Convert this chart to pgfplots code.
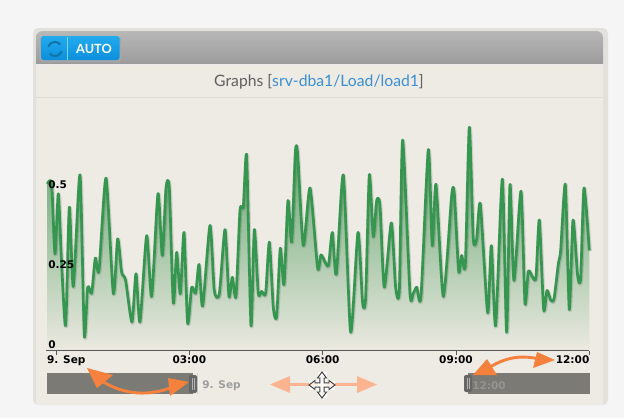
\documentclass[border=0pt]{standalone}
\usepackage{pgfplots}
\usepackage{pgfplotstable}
\pgfplotsset{compat=1.18}
\usepackage{fontspec}
\setmainfont{Lato}
\newfontfamily\tickfont{DejaVu Sans}
\definecolor{outer}{HTML}{F5F5F5}
\definecolor{panelb}{HTML}{E3E1DB}
\definecolor{panel}{HTML}{EEEBE4}
\definecolor{sep}{HTML}{DEDCD6}
\definecolor{lineg}{HTML}{359650}
\definecolor{areatop}{HTML}{559F63}
\definecolor{areabot}{HTML}{EBE9E1}
\definecolor{oran}{HTML}{F5813C}
\definecolor{lightoran}{HTML}{FBB48F}
\definecolor{mask}{HTML}{7C7A74}
\definecolor{titleg}{HTML}{5F5F5F}
\definecolor{linkb}{HTML}{3A8FD6}
\definecolor{btop}{HTML}{22ABEF}
\definecolor{bbot}{HTML}{0C8FDC}
\definecolor{bicon}{HTML}{1273A8}
\pgfplotstableread{
m v
-11.7 .521
-5.85 .521
-1.35 .302
3.15 .490
7.65 .271
13.05 .078
18 .448
23.4 .200
32.4 .549
38.25 .047
42.75 .198
48.15 .179
53.1 .289
58.05 .250
67.5 .539
77.4 .179
83.25 .349
88.65 .245
94.05 .219
102.6 .089
108 .240
113.4 .089
122.4 .359
129.15 .169
137.7 .490
143.55 .297
148.5 .508
153 .508
158.4 .148
162.9 .307
167.85 .177
172.8 .369
177.75 .085
183.15 .198
188.55 .179
193.05 .269
198 .139
207.9 .391
213.75 .188
220.5 .177
228.15 .378
233.55 .169
238.05 .229
243 .169
248.4 .438
252.9 .450
257.4 .608
263.25 .078
267.75 .378
273.15 .179
277.65 .185
283.05 .179
288 .339
293.4 .135
297.9 .107
302.85 .320
307.8 .206
313.2 .469
318.15 .339
323.1 .619
326.25 .615
333.9 .328
342.9 .508
353.25 .258
357.75 .299
364.5 .271
368.1 .268
373.05 .369
378.45 .238
387.9 .549
397.8 .057
407.7 .369
414 .148
418.05 .167
423 .549
428.4 .356
432.9 .469
437.4 .453
443.25 .198
452.7 .399
458.55 .198
463.5 .188
468 .658
477.9 .179
482.4 .179
486.9 .198
492.75 .169
502.65 .628
508.05 .328
513 .519
522.9 .169
534.15 .484
537.75 .490
543.6 .248
547.65 .297
552.6 .268
558 .698
563.4 .349
567.9 .349
572.85 .458
582.75 .118
587.7 .328
593.55 .078
602.55 .536
608.4 .057
612.9 .519
618.3 .219
627.75 .498
633.15 .148
637.65 .248
643.5 .229
648 .229
652.5 .408
658.35 .128
662.85 .188
667.8 .158
672.3 .161
678.15 .271
681.3 .313
687.6 .519
693 .128
697.95 .408
704.25 .234
708.3 .227
712.8 .508
720 .313
}\loadtable
\begin{document}
\begin{tikzpicture}
\begin{scope}[x=.75pt,y=-.75pt]
\path[use as bounding box] (0,0) rectangle (624,418);
\fill[outer] (0,0) rectangle (624,418);
\fill[panelb,rounded corners=4pt] (33,28) rectangle (608,405);
\fill[panel] (36,64) rectangle (603,405);
\shade[top color=black!28,bottom color=black!41,rounded corners=5pt] (36,31) -- (603,31) -- (603,70) -- (36,70) -- cycle;
\fill[panel] (36,65) rectangle (603,72);
\fill[white!92!black] (36,64) rectangle (603,65);
\fill[sep] (36,96.5) rectangle (603,97.7);
\fill[black!35,rounded corners=2pt] (40,37) rectangle (121,62);
\shade[top color=btop,bottom color=bbot,rounded corners=2pt] (41,36) rectangle (119.5,60);
\fill[white!50!cyan] (67.4,36.5) rectangle (68,60);
\draw[bicon,line width=1.5pt] (48.4,46.6) arc[start angle=200,end angle=320,radius=7];
\draw[bicon,line width=1.5pt] (61.6,51.4) arc[start angle=20,end angle=140,radius=7];
\node[text=white,font=\fontsize{9.5}{11}\selectfont\bfseries,anchor=center] at (94,49) {AUTO};
\node[font=\fontsize{11.8}{13}\selectfont,text=titleg,anchor=center] at (319,81.5) {Graphs [\textcolor{linkb}{srv-dba1/Load/load1}]};
\end{scope}
\begin{axis}[
  at={(34.5pt,-262.9pt)},anchor=south west,
  scale only axis,width=407.5pt,height=192pt,
  xmin=-13.5,xmax=720,ymin=0,ymax=.8,
  axis on top,
  axis x line=bottom,axis y line=left,
  x axis line style={-,draw=black!65,line width=.9pt},
  y axis line style={-,draw=none},
  xtick={0,180,360,540,720},
  xticklabels={\makebox[0pt][l]{\hspace{-6.75pt}9. Sep},03:00,06:00,09:00,\makebox[0pt][r]{12:00}},
  ytick={0,.25,.5},
  yticklabels={0,0.25,0.5},
  x tick style={draw=black!65,line width=.7pt},
  y tick style={draw=none},
  tick align=outside,
  major tick length=3pt,
  tick label style={font=\tickfont\bfseries\fontsize{7.9}{9}\selectfont,text=black},
  xticklabel style={yshift=.6pt,inner sep=1pt},
  yticklabel style={anchor=west,xshift=4.5pt,yshift=4.6pt,inner sep=0pt},
  /pgf/number format/assume math mode=true,
  clip=false,
]
\addplot[draw=none,smooth,tension=0.4,top color=areatop,bottom color=areabot,shading angle=0] table[x=m,y=v] {\loadtable} \closedcycle;
\addplot[black,opacity=.12,line width=3pt,smooth,tension=0.4,no marks,line join=round,yshift=-.6pt,xshift=.4pt] table[x=m,y=v] {\loadtable};
\addplot[lineg,line width=2pt,smooth,tension=0.4,no marks,line join=round] table[x=m,y=v] {\loadtable};
\end{axis}
\begin{scope}[x=.75pt,y=-.75pt]
% navigator
\fill[mask] (46.7,373) rectangle (193,394);
\fill[mask] (468,373) rectangle (589.5,394);
\fill[black!20] (197,373) rectangle (198,394);
\fill[black!60,rounded corners=1.5pt] (189,375) rectangle (197,393);
\fill[black!30] (192,378) rectangle (192.8,390);
\fill[black!30] (194,378) rectangle (194.8,390);
\fill[black!60,rounded corners=1.5pt] (464,375) rectangle (472,392);
\fill[black!30] (466.5,378) rectangle (467.3,389);
\fill[black!30] (468.5,378) rectangle (469.3,389);
\node[font=\tickfont\bfseries\fontsize{7.9}{9}\selectfont,text=black!38,anchor=west,inner sep=0pt] at (202,386) {9. Sep};
\node[font=\tickfont\bfseries\fontsize{7.9}{9}\selectfont,text=black!42,anchor=west,inner sep=0pt] at (472,386) {12:00};
% light arrows
\draw[lightoran,line width=1.6pt] (288,384.5) -- (360,384.5);
\fill[lightoran] (270,384.5) -- (290,376) -- (290,393) -- cycle;
\fill[lightoran] (377,384.5) -- (357,376) -- (357,393) -- cycle;
% orange arrows
\draw[oran,line width=2.2pt] (100,380) .. controls (125,396) and (150,396) .. (173,387);
\fill[oran] (87,368) -- (113,375) -- (97,388) -- cycle;
\fill[oran] (189,382) -- (168,378) -- (170,396) -- cycle;
\draw[oran,line width=2.2pt] (490,367) .. controls (510,355) and (525,356) .. (540,359);
\fill[oran] (473,375) -- (487,359) -- (497,375) -- cycle;
\fill[oran] (555,360) -- (537,352) -- (533,368) -- cycle;
% move cursor
\fill[white,opacity=.75] (317.5,372) rectangle (326.5,398);
\fill[white,opacity=.75] (309,380.5) rectangle (335,389.5);
\draw[black!75,line width=.7pt,line join=miter]
 (322,372) -- (326.5,378) -- (324.2,378) -- (324.2,382.8) -- (329,382.8) -- (329,380.5) -- (335,385) -- (329,389.5) -- (329,387.2) -- (324.2,387.2) -- (324.2,392) -- (326.5,392)
 -- (322,398) -- (317.5,392) -- (319.8,392) -- (319.8,387.2) -- (315,387.2) -- (315,389.5) -- (309,385) -- (315,380.5) -- (315,382.8) -- (319.8,382.8) -- (319.8,378) -- (317.5,378) -- cycle;
\end{scope}
\end{tikzpicture}
\end{document}
